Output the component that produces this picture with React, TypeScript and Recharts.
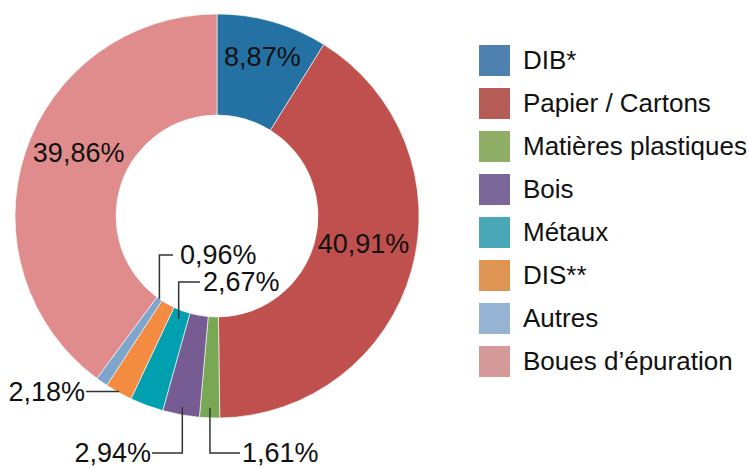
import React from "react";
import { PieChart, Pie, Cell, Legend } from "recharts";

const categories = [
  "DIB*",
  "Papier / Cartons",
  "Matières plastiques",
  "Bois",
  "Métaux",
  "DIS**",
  "Autres",
  "Boues d\u2019épuration",
];
const shares = [8.87, 40.91, 1.61, 2.94, 2.67, 2.18, 0.96, 39.86];

const SLICE_COLORS = ["#2471a3", "#c0504d", "#78a854", "#775b93", "#00a0b0", "#f38b40", "#7ea6cc", "#e08c8c"];
const LEGEND_COLORS = ["#4f81b0", "#b65c56", "#8fae66", "#7b679a", "#4aa7b8", "#de9452", "#97b3d4", "#d49a9a"];

const FONT = "'Liberation Sans', Arial, sans-serif";
const RADIAN = Math.PI / 180;

// label placement: "in" = text on the ring, others use a leader line from the slice
type LabelLayout =
  | { kind: "in"; r: number; dx: number; dy: number }
  | { kind: "up" | "down"; r: number; elbowY: number; endX: number; gap: number }
  | { kind: "side"; r: number; endX: number; gap: number };

const LAYOUT: LabelLayout[] = [
  { kind: "in", r: 165, dx: 0, dy: 0 },
  { kind: "in", r: 152, dx: 0, dy: -13 },
  { kind: "down", r: 192, elbowY: 453, endX: 240, gap: 2 },
  { kind: "down", r: 194, elbowY: 453, endX: 152, gap: -1 },
  { kind: "up", r: 110, elbowY: 282, endX: 200, gap: 3 },
  { kind: "side", r: 201, endX: 86, gap: -1 },
  { kind: "up", r: 101, elbowY: 255, endX: 173, gap: 7 },
  { kind: "in", r: 152, dx: 6, dy: -15 },
];

const data = categories.map((name, i) => ({ name, value: shares[i] }));

const fmt = (v: number) => `${v.toFixed(2).replace(".", ",")}%`;

function renderLabel(props: any) {
  const { cx, cy, midAngle, index, value } = props;
  const lay = LAYOUT[index];
  const cos = Math.cos(-midAngle * RADIAN);
  const sin = Math.sin(-midAngle * RADIAN);
  const ax = cx + lay.r * cos;
  const ay = cy + lay.r * sin;
  const text = fmt(value);
  const txt = (x: number, y: number, anchor: "start" | "middle" | "end") => (
    <text x={x} y={y} textAnchor={anchor} dominantBaseline="central" fontFamily={FONT} fontSize={27} fill="#111">
      {text}
    </text>
  );
  if (lay.kind === "in") {
    return <g key={index}>{txt(ax + lay.dx, ay + lay.dy, "middle")}</g>;
  }
  if (lay.kind === "side") {
    return (
      <g key={index}>
        <polyline points={`${ax},${ay} ${lay.endX},${ay}`} fill="none" stroke="#333" strokeWidth={1.5} />
        {txt(lay.endX + lay.gap, ay, lay.endX < ax ? "end" : "start")}
      </g>
    );
  }
  const right = lay.endX > ax;
  return (
    <g key={index}>
      <polyline
        points={`${ax},${ay} ${ax},${lay.elbowY} ${lay.endX},${lay.elbowY}`}
        fill="none"
        stroke="#333"
        strokeWidth={1.5}
      />
      {txt(lay.endX + lay.gap, lay.elbowY, right ? "start" : "end")}
    </g>
  );
}

function LegendBox() {
  return (
    <div style={{ fontFamily: FONT }}>
      {categories.map((c, i) => (
        <div key={c} style={{ display: "flex", alignItems: "center", height: 43 }}>
          <div style={{ width: 31, height: 31, flexShrink: 0, background: LEGEND_COLORS[i], marginRight: 13 }} />
          <span style={{ fontSize: 26, color: "#111", lineHeight: "31px", whiteSpace: "nowrap" }}>{c}</span>
        </div>
      ))}
    </div>
  );
}

export default function App() {
  return (
    <div style={{ position: "absolute", left: 0, top: 0, width: 748, height: 468, background: "#fff", overflow: "hidden" }}>
      <PieChart width={748} height={468} margin={{ top: 0, right: 0, bottom: 0, left: 0 }}>
        <Pie
          data={data}
          dataKey="value"
          nameKey="name"
          cx={217}
          cy={216}
          innerRadius={101}
          outerRadius={202}
          startAngle={90}
          endAngle={-270}
          stroke="#ffffff"
          strokeWidth={0.6}
          label={renderLabel}
          labelLine={false}
          isAnimationActive={false}
        >
          {data.map((_, i) => (
            <Cell key={i} fill={SLICE_COLORS[i]} />
          ))}
        </Pie>
        <Legend
          content={() => <LegendBox />}
          wrapperStyle={{ position: "absolute", left: 479, top: 39, width: 269 }}
        />
      </PieChart>
    </div>
  );
}
